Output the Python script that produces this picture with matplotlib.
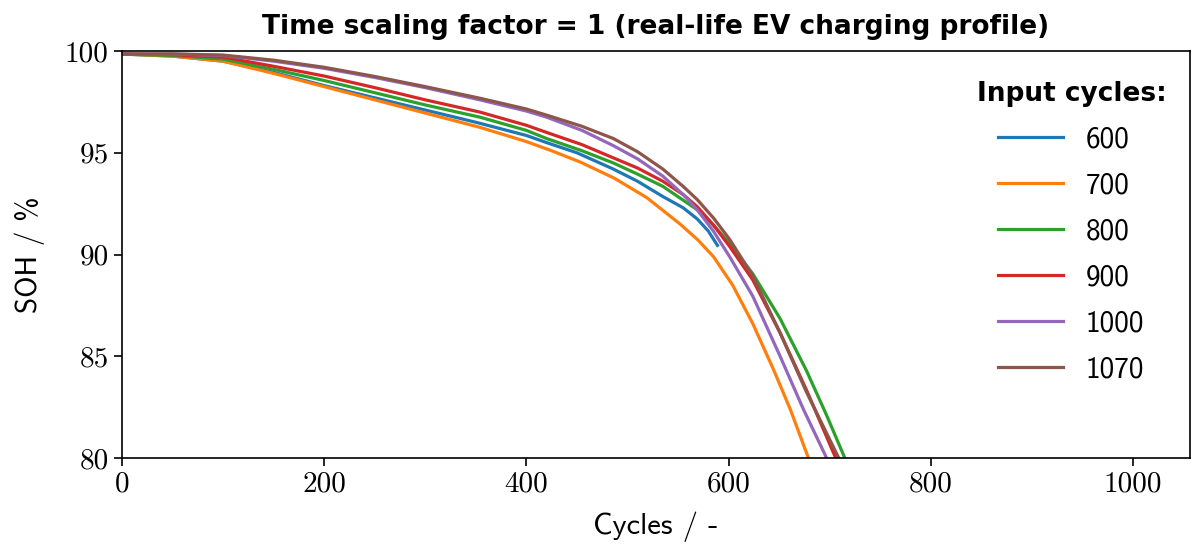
import numpy as np
import matplotlib.pyplot as plt

# SOH curves (cycles, SOH in %)
cyc_600 = [0, 50, 100, 150, 200, 250, 300, 350, 400, 420, 450, 486, 510, 535, 555, 569, 580, 589]
soh_600 = [99.85, 99.75, 99.5, 98.95, 98.3, 97.7, 97.1, 96.5, 95.85, 95.5, 95.0, 94.2, 93.6, 92.85, 92.3, 91.75, 91.15, 90.45]

cyc_700 = [0, 50, 100, 150, 200, 250, 300, 354, 400, 425, 453, 487, 519, 552, 570, 585, 604, 624, 644, 661, 679, 690]
soh_700 = [99.85, 99.75, 99.5, 98.9, 98.25, 97.6, 96.95, 96.25, 95.55, 95.1, 94.55, 93.75, 92.8, 91.5, 90.7, 89.9, 88.5, 86.6, 84.4, 82.4, 80.0, 78.6]

cyc_800 = [0, 50, 100, 150, 200, 250, 300, 354, 400, 420, 455, 486, 510, 535, 569, 585, 601, 624, 651, 677, 697, 715, 725]
soh_800 = [99.85, 99.78, 99.6, 99.1, 98.55, 97.95, 97.35, 96.75, 96.1, 95.7, 95.1, 94.5, 93.95, 93.35, 92.2, 91.45, 90.55, 89.05, 86.85, 84.3, 82.1, 80.0, 78.8]

cyc_900 = [0, 50, 100, 150, 200, 250, 300, 354, 400, 420, 455, 486, 510, 535, 555, 569, 585, 601, 624, 651, 677, 706, 716]
soh_900 = [99.85, 99.82, 99.7, 99.25, 98.77, 98.2, 97.6, 97.0, 96.35, 96.0, 95.4, 94.75, 94.25, 93.6, 92.95, 92.35, 91.45, 90.4, 88.75, 86.15, 83.35, 80.0, 78.8]

cyc_1000 = [0, 50, 100, 150, 200, 250, 300, 354, 400, 420, 455, 486, 510, 535, 555, 569, 585, 601, 624, 651, 674, 697, 707]
soh_1000 = [99.85, 99.85, 99.78, 99.5, 99.15, 98.7, 98.2, 97.6, 97.05, 96.75, 96.1, 95.35, 94.7, 93.85, 92.95, 92.2, 91.15, 89.9, 87.95, 85.0, 82.4, 80.0, 78.8]

cyc_1070 = [0, 50, 100, 150, 200, 250, 300, 354, 400, 420, 455, 486, 510, 535, 555, 569, 585, 601, 624, 651, 677, 709, 719]
soh_1070 = [99.85, 99.86, 99.8, 99.55, 99.2, 98.75, 98.25, 97.68, 97.15, 96.85, 96.3, 95.7, 95.05, 94.2, 93.35, 92.7, 91.8, 90.75, 88.95, 86.15, 83.25, 80.0, 78.8]

labels = ["600", "700", "800", "900", "1000", "1070"]
cycles = [cyc_600, cyc_700, cyc_800, cyc_900, cyc_1000, cyc_1070]
soh = [soh_600, soh_700, soh_800, soh_900, soh_1000, soh_1070]

fig = plt.figure(figsize=(11.92, 5.46), dpi=100)
ax = fig.add_axes([0.1023, 0.161, 0.8957, 0.7456])

for name, x, y in zip(labels, cycles, soh):
    ax.plot(x, y, lw=2.3, label=name, solid_joinstyle="round")

ax.set_xlim(0, 1056)
ax.set_ylim(80, 100)
ax.set_xticks([0, 200, 400, 600, 800, 1000])
ax.set_yticks([80, 85, 90, 95, 100])
ax.tick_params(direction="out", length=6, width=1.2, labelsize=21)
for lbl in ax.get_xticklabels() + ax.get_yticklabels():
    lbl.set_fontfamily("cmr10")
for s in ax.spines.values():
    s.set_linewidth(1.2)

ax.set_xlabel("Cycles / -", fontfamily="cmss10", fontsize=22, labelpad=10)
ax.set_ylabel("SOH / %", fontfamily="cmss10", fontsize=21, labelpad=14)
ax.set_title("Time scaling factor = 1 (real-life EV charging profile)",
             fontfamily="DejaVu Sans", fontweight="bold", fontsize=19, pad=12)

leg = ax.legend(title="Input cycles:", loc="upper right", frameon=False,
                bbox_to_anchor=(1.0, 0.983),
                prop={"family": "cmss10", "size": 21}, handlelength=2.2,
                borderaxespad=0.4, labelspacing=0.65)
leg.get_title().set_fontfamily("DejaVu Sans")
leg.get_title().set_fontweight("bold")
leg.get_title().set_fontsize(19)

fig.savefig("out.png", dpi=100)
